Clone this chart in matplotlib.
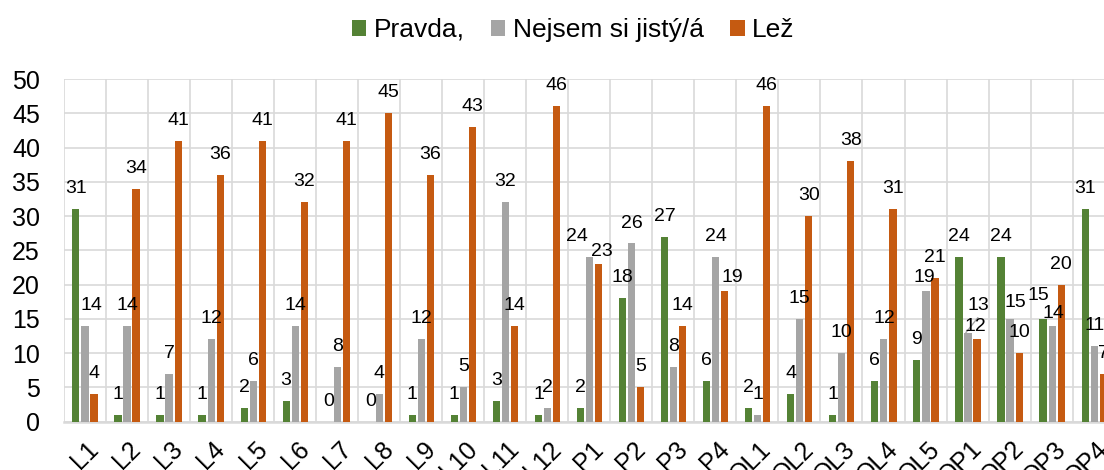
import matplotlib
matplotlib.use("Agg")
import matplotlib.pyplot as plt
import matplotlib.transforms as mtransforms
from matplotlib.patches import Patch
import numpy as np

plt.rcParams['font.family'] = ['Liberation Sans', 'DejaVu Sans']

categories = ["L1", "L2", "L3", "L4", "L5", "L6", "L7", "L8", "L9", "L10", "L11", "L12",
              "P1", "P2", "P3", "P4", "OL1", "OL2", "OL3", "OL4", "OL5",
              "OP1", "OP2", "OP3", "OP4"]
pravda = [31, 1, 1, 1, 2, 3, 0, 0, 1, 1, 3, 1, 2, 18, 27, 6, 2, 4, 1, 6, 9, 24, 24, 15, 31]
nejsem = [14, 14, 7, 12, 6, 14, 8, 4, 12, 5, 32, 2, 24, 26, 8, 24, 1, 15, 10, 12, 19, 13, 15, 14, 11]
lez = [4, 34, 41, 36, 41, 32, 41, 45, 36, 43, 14, 46, 23, 5, 14, 19, 46, 30, 38, 31, 21, 12, 10, 20, 7]
series_names = ["Pravda,", "Nejsem si jistý/á", "Lež"]
colors = ["#548235", "#A5A5A5", "#C55A11"]

# manual data-label nudges (pixels; +y = up), keyed by (series index, category)
label_nudge = {
    (1, "L1"): (6, 0),
    (1, "P1"): (-13, 0),
    (2, "P1"): (3, -8),
    (2, "P4"): (8, -6),
    (1, "OL5"): (-2, -6),
    (1, "OP1"): (10, 7),
    (2, "OP1"): (-2, -8),
    (1, "OP2"): (5, -4),
    (0, "OP3"): (-5, 3),
    (1, "OP3"): (1, -8),
}
leader_lines = {(1, "OP1"): (12, 15)}

W, H = 1104, 470
fig = plt.figure(figsize=(W / 100, H / 100), dpi=100)
left_px, cat_w = 63.5, 42.05
ax = fig.add_axes([left_px / W, (H - 421.7) / H, 25 * cat_w / W, (421.7 - 79) / H])

px2pt = 72 / 100
x = np.arange(len(categories))
offsets = [-0.205, 0.01, 0.225]
bw = 0.17
for si, (vals, off, c) in enumerate(zip([pravda, nejsem, lez], offsets, colors)):
    ax.bar(x + off, vals, width=bw, color=c, zorder=3)
    for xi, cat, v in zip(x, categories, vals):
        ndx, ndy = label_nudge.get((si, cat), (0, 0))
        ax.annotate(str(v), (xi + off, v), xytext=(ndx * px2pt, 11.5 + ndy * px2pt),
                    textcoords="offset points", ha="center", va="baseline",
                    fontsize=14, color="#000000", zorder=4)
        if (si, cat) in leader_lines:
            lx, ly = leader_lines[(si, cat)]
            ax.annotate("", (xi + off - 0.05, v), xytext=(lx * px2pt, ly * px2pt),
                        textcoords="offset points",
                        arrowprops=dict(arrowstyle="-", color="#A5A5A5", lw=1,
                                        shrinkA=0, shrinkB=0), zorder=4)

ax.set_xlim(-0.5, len(categories) - 0.5)
ax.set_ylim(0, 50)
ax.set_yticks(np.arange(0, 51, 5))
ax.set_xticks(x)
ax.set_xticks(np.arange(-0.5, len(categories), 1), minor=True)
ax.grid(True, which="major", axis="y", color="#D9D9D9", linewidth=1.2, zorder=0)
ax.grid(True, which="minor", axis="x", color="#D9D9D9", linewidth=1.2, zorder=0)
ax.set_axisbelow(True)
for s in ["top", "right", "left"]:
    ax.spines[s].set_visible(False)
ax.spines["bottom"].set_color("#D9D9D9")
ax.spines["bottom"].set_linewidth(1.8)
ax.tick_params(axis="both", which="both", length=0)
ax.tick_params(axis="y", labelsize=18, pad=17)
ax.tick_params(axis="x", labelbottom=False)

# rotated category labels: top-right corner anchored just below each category centre
lab_tr = ax.get_xaxis_transform() + mtransforms.ScaledTranslation(2 / 100, -15 / 100,
                                                                   fig.dpi_scale_trans)
for xi, cat in zip(x, categories):
    ax.text(xi, 0, cat, transform=lab_tr, rotation=45, rotation_mode="anchor",
            ha="right", va="top", fontsize=18, clip_on=False)

handles = [Patch(facecolor=c, edgecolor="none") for c in colors]
fig.legend(handles, series_names, loc="center", bbox_to_anchor=(573 / W, 1 - 30 / H),
           ncol=3, frameon=False, fontsize=19, handlelength=0.55, handleheight=0.55,
           handletextpad=0.28, columnspacing=1.0, borderaxespad=0)

fig.savefig("out.png", dpi=100)
